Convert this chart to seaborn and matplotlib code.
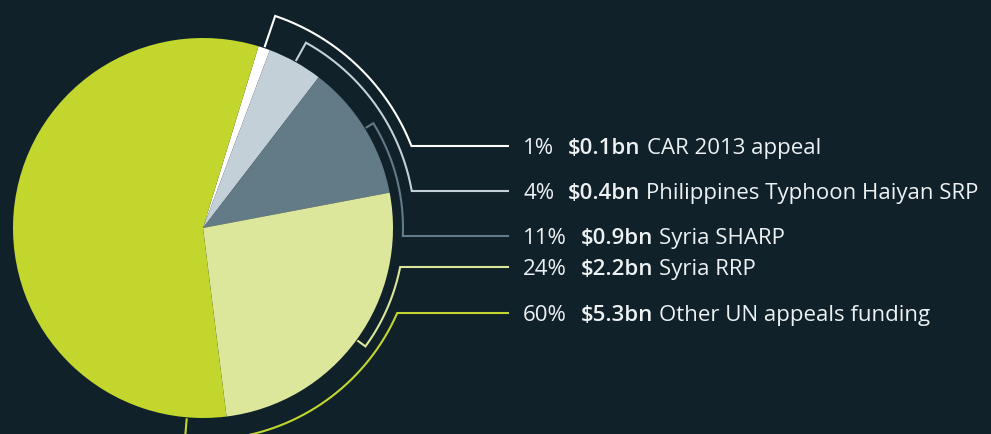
import numpy as np
import matplotlib
matplotlib.use('Agg')
import matplotlib.pyplot as plt
import seaborn as sns

# 데이터
names = ['CAR 2013 appeal', 'Philippines Typhoon Haiyan SRP', 'Syria SHARP',
         'Syria RRP', 'Other UN appeals funding']
percents = ['1%', '4%', '11%', '24%', '60%']
amounts = ['$0.1bn', '$0.4bn', '$0.9bn', '$2.2bn', '$5.3bn']
# wedge sizes as drawn in the picture (% of the circle)
wedge_share = [1.0, 4.7, 11.6, 26.0, 56.7]

colors = ['#ffffff', '#c3d0d8', '#637a87', '#dce79b', '#c2d62e']
bg = '#10212a'
txt_color = '#eef1f1'

sns.set_theme(style='dark', rc={'figure.facecolor': bg, 'axes.facecolor': bg})
plt.rcParams['font.family'] = ['Open Sans', 'DejaVu Sans']

# 레이아웃 (이미지 픽셀 좌표, y는 아래로)
W, H = 991, 434
cx, cy, R = 203, 228, 190
start = 17            # first wedge starts 17 deg clockwise from 12 o'clock
tick_r0 = 191         # brackets start at the pie edge
arc_r = [224, 212, 200, 201, 212]
label_y = [146, 191, 236, 267, 313]
line_end = 509
text_x = 523
fs = 16

fig = plt.figure(figsize=(W / 100, H / 100), dpi=100)
ax = fig.add_axes([0, 0, 1, 1])

ax.pie(wedge_share, colors=colors, startangle=90 - start, counterclock=False,
       center=(cx, H - cy), radius=R, wedgeprops=dict(linewidth=0))
ax.set_xlim(0, W)
ax.set_ylim(0, H)
ax.set_aspect('equal')
ax.axis('off')

# 각 조각의 가운데 각도 (시계방향, 12시 기준)
edges = start + np.concatenate([[0], np.cumsum(wedge_share)]) * 3.6
tick_deg = list((edges[:-1] + edges[1:]) / 2)
tick_deg[4] = edges[4] + 12   # the big slice's bracket sits near the bottom


def pt(theta, r):
    t = np.radians(theta)
    return cx + r * np.sin(t), H - (cy - r * np.cos(t))


for i in range(len(names)):
    r = arc_r[i]
    th_end = np.degrees(np.arccos((cy - label_y[i]) / r))
    th = np.linspace(tick_deg[i], th_end, 200)
    x0, y0 = pt(tick_deg[i], tick_r0)
    xa, ya = pt(th, r)
    xs = np.concatenate([[x0], xa, [line_end]])
    ys = np.concatenate([[y0], ya, [H - label_y[i]]])
    ax.plot(xs, ys, color=colors[i], lw=1.5, solid_joinstyle='miter',
            solid_capstyle='butt')

# 라벨
fig.canvas.draw()
rend = fig.canvas.get_renderer()
for i in range(len(names)):
    y = H - label_y[i]
    t1 = ax.text(text_x, y, percents[i], color=txt_color, fontsize=fs,
                 va='center_baseline')
    x1 = ax.transData.inverted().transform(
        (t1.get_window_extent(rend).x1, 0))[0] + 14
    t2 = ax.text(x1, y, amounts[i], color=txt_color, fontsize=fs,
                 fontweight='semibold', va='center_baseline')
    x2 = ax.transData.inverted().transform(
        (t2.get_window_extent(rend).x1, 0))[0] + 6
    ax.text(x2, y, names[i], color=txt_color, fontsize=fs,
            va='center_baseline')

fig.savefig('out.png', dpi=100, facecolor=bg)
